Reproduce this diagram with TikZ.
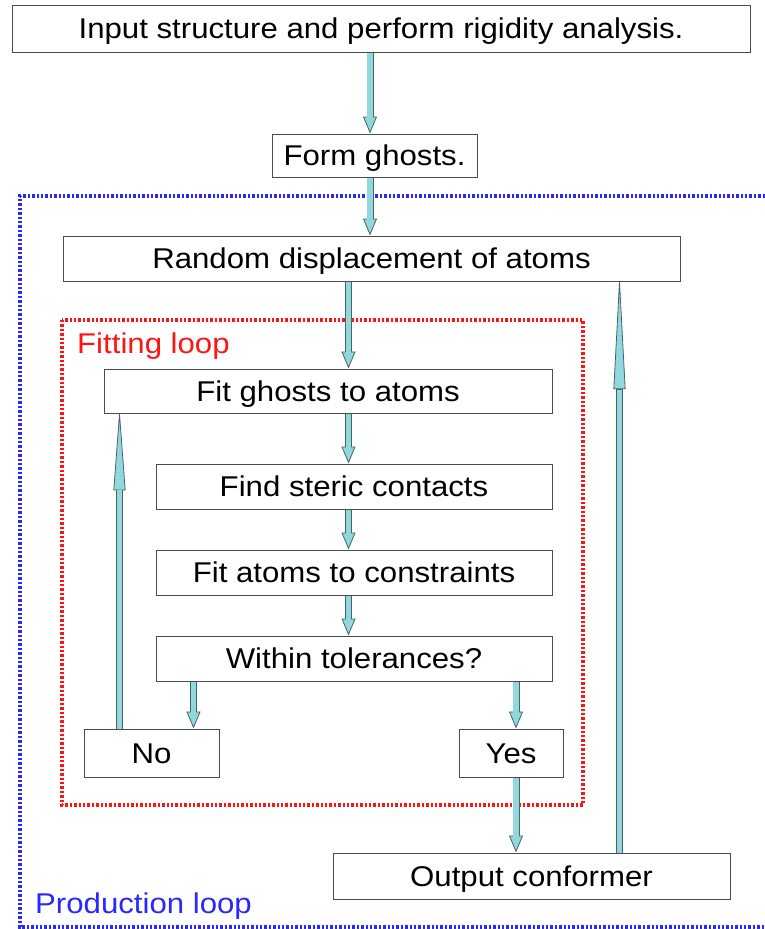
\documentclass[tikz,border=0pt]{standalone}
\usepackage{fontspec}
\setmainfont{Liberation Sans}[FakeStretch=1.09]
\usetikzlibrary{arrows.meta}
\definecolor{arrcyan}{RGB}{145,215,220}
\definecolor{arrdark}{RGB}{70,100,105}
\definecolor{loopred}{RGB}{255,20,20}
\definecolor{loopblue}{RGB}{40,40,255}
\tikzset{
  box/.style={draw=black!70, line width=1pt, fill=white, inner sep=0pt,
    text height=20.5pt, text depth=0pt,
    font=\fontsize{28.6}{34}\selectfont},
  downarr/.style={draw=arrdark, line width=7pt,
    -{Triangle[length=17pt, width=14pt, fill=arrcyan, line width=0.8pt]},
    postaction={draw=arrcyan, line width=5.4pt, shorten >=16pt, -}},
  uparrL/.style={draw=arrdark, line width=7pt,
    -{Triangle[round, length=82pt, width=12pt, fill=arrcyan, line width=0.8pt]},
    postaction={draw=arrcyan, line width=5.4pt, shorten >=76pt, -}},
  uparrR/.style={draw=arrdark, line width=7pt,
    -{Triangle[round, length=115pt, width=12pt, fill=arrcyan, line width=0.8pt]},
    postaction={draw=arrcyan, line width=5.4pt, shorten >=108pt, -}},
  loopframe/.style={line width=3.2pt, dash pattern=on 2.4pt off 2pt},
  looplabel/.style={anchor=base west, inner sep=0pt, font=\fontsize{28.6}{34}\selectfont}
}
\begin{document}
\begin{tikzpicture}[x=1pt,y=-1pt]
\useasboundingbox (0,0) rectangle (765,929);
% loop frames
\draw[loopframe, loopblue] (765,196) -- (20,196) -- (20,927) -- (765,927);
\draw[loopframe, loopred] (62,320) rectangle (583,805);
\node[looplabel, text=loopred] (fitlbl) at (77,353) {Fitting loop};
\node[looplabel, text=loopblue] (prodlbl) at (35,913) {Production loop};
% boxes
\node[box, minimum width=738pt, minimum height=47pt] (input) at (381,28.5) {Input structure and perform rigidity analysis.};
\node[box, minimum width=205pt, minimum height=43pt] (ghosts) at (374.5,155.5) {Form ghosts.};
\node[box, minimum width=617pt, minimum height=45pt] (random) at (371.5,258.5) {Random displacement of atoms};
\node[box, minimum width=448pt, minimum height=44pt] (fitg) at (328,391) {Fit ghosts to atoms};
\node[box, minimum width=396pt, minimum height=45pt] (steric) at (354,486.5) {Find steric contacts};
\node[box, minimum width=396pt, minimum height=45pt] (constr) at (354,572.5) {Fit atoms to constraints};
\node[box, minimum width=396pt, minimum height=45pt] (within) at (354,658.5) {Within tolerances?};
\node[box, minimum width=135pt, minimum height=48pt] (no) at (151.5,753) {No};
\node[box, minimum width=104pt, minimum height=48pt] (yes) at (511,753) {Yes};
\node[box, minimum width=397pt, minimum height=46pt] (output) at (531.5,876) {Output conformer};
% arrow columns
\coordinate (cA) at (370,0);
\coordinate (cB) at (348.5,0);
\coordinate (cNo) at (193.5,0);
\coordinate (cYes) at (516,0);
\coordinate (cUL) at (119.5,0);
\coordinate (cUR) at (619.5,0);
% connectors
\draw[downarr] (input.south -| cA) -- (ghosts.north -| cA);
\draw[downarr] (ghosts.south -| cA) -- (random.north -| cA);
\draw[downarr] (random.south -| cB) -- (fitg.north -| cB);
\draw[downarr] (fitg.south -| cB) -- (steric.north -| cB);
\draw[downarr] (steric.south -| cB) -- (constr.north -| cB);
\draw[downarr] (constr.south -| cB) -- (within.north -| cB);
\draw[downarr] (within.south -| cNo) -- (no.north -| cNo);
\draw[downarr] (within.south -| cYes) -- (yes.north -| cYes);
\draw[downarr] (yes.south -| cYes) -- (output.north -| cYes);
\draw[uparrL] (no.north -| cUL) -- (fitg.south -| cUL);
\draw[uparrR] (output.north -| cUR) -- (random.south -| cUR);
\end{tikzpicture}
\end{document}
